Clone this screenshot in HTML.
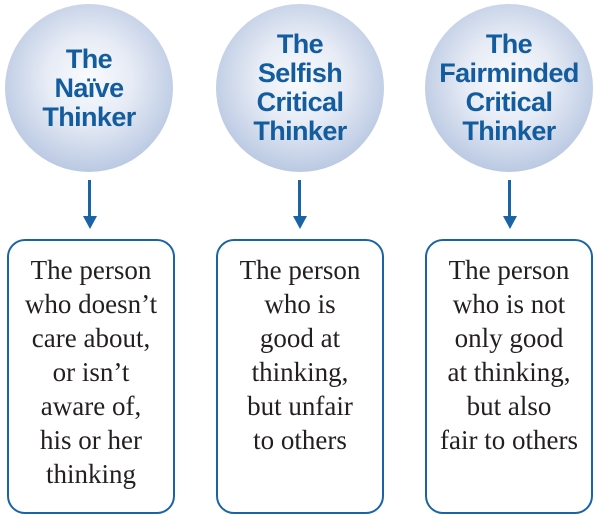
<!DOCTYPE html>
<html><head><meta charset="utf-8"><style>
body{margin:0;width:599px;height:525px;background:#fff;position:relative;overflow:hidden}
.c{position:absolute;width:168px;height:168px;border-radius:50%;background:radial-gradient(circle at 50% 45%,#fafbfe 0%,#e6ebf5 35%,#b9c8e2 75%,#9fb4d6 100%);display:flex;align-items:center;justify-content:center;text-align:center;font:bold 27px/29px "Liberation Sans",sans-serif;color:#135c9e;letter-spacing:-0.6px}
.a{position:absolute;width:3px;background:#1a64a6;top:180px;height:40px}
.h{position:absolute;top:216px;width:0;height:0;border-left:7px solid transparent;border-right:7px solid transparent;border-top:13px solid #1a64a6}
.b{position:absolute;top:239px;width:164px;height:275px;border:2.5px solid #1a64a6;border-radius:18px;text-align:center;font:27px/34px "Liberation Serif",serif;color:#231f20;padding-top:12px;box-sizing:border-box}
</style></head><body>
<div class="c" style="left:5px;top:4px">The<br>Naïve<br>Thinker</div>
<div class="c" style="left:216px;top:4px">The<br>Selfish<br>Critical<br>Thinker</div>
<div class="c" style="left:425px;top:4px">The<br>Fairminded<br>Critical<br>Thinker</div>
<div class="a" style="left:88px"></div><div class="h" style="left:82.5px"></div>
<div class="a" style="left:298px"></div><div class="h" style="left:292.5px"></div>
<div class="a" style="left:508px"></div><div class="h" style="left:502.5px"></div>
<div class="b" style="left:7px;width:168px">The person<br>who doesn’t<br>care about,<br>or isn’t<br>aware of,<br>his or her<br>thinking</div>
<div class="b" style="left:216px;width:168px">The person<br>who is<br>good at<br>thinking,<br>but unfair<br>to others</div>
<div class="b" style="left:425px;width:168px">The person<br>who is not<br>only good<br>at thinking,<br>but also<br>fair to others</div>
</body></html>
